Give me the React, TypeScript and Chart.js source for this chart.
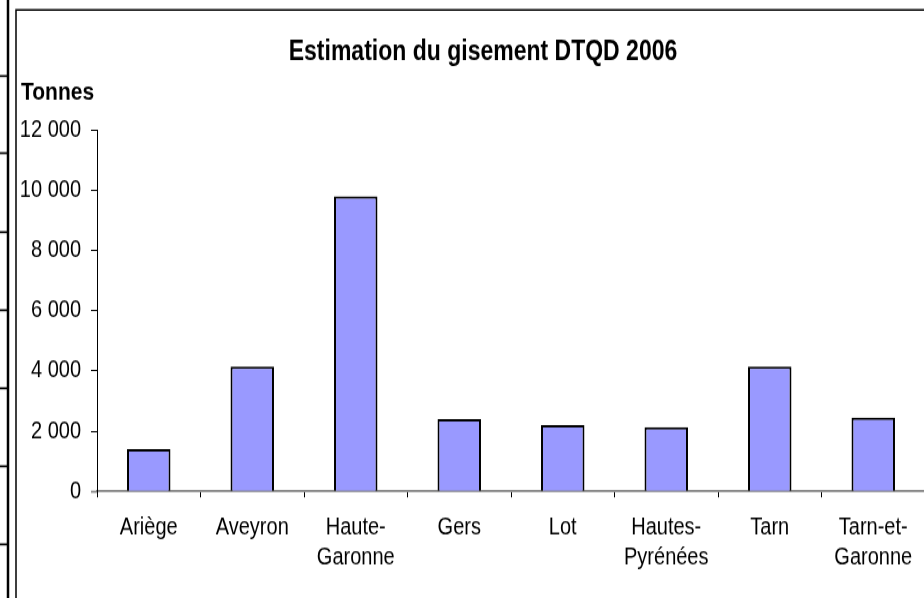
import React, { useEffect, useRef } from "react";
import { Chart, registerables } from "chart.js";

Chart.register(...registerables);

const chartTitle = "Estimation du gisement DTQD 2006";
const unitLabel = "Tonnes";
const categories: (string | string[])[] = [
  "Ariège",
  "Aveyron",
  ["Haute-", "Garonne"],
  "Gers",
  "Lot",
  ["Hautes-", "Pyrénées"],
  "Tarn",
  ["Tarn-et-", "Garonne"],
];
const tonnages = [1400, 4150, 9800, 2400, 2200, 2130, 4150, 2450];
const yMin = 0;
const yMax = 12000;
const yStep = 2000;

const FONT = "'Liberation Sans', Arial, Helvetica, sans-serif";
// The reference is a vertically stretched picture: draw at a reduced height
// and stretch the canvas with CSS.
const W = 930;
const H_OUT = 598;
const S = 1.2;
const H = Math.round(H_OUT / S); // 498
const v = (y: number) => y / S; // convert picture y to canvas y

const formatThousands = (n: number) =>
  String(Math.round(n)).replace(/\B(?=(\d{3})+(?!\d))/g, " ");

const decorPlugin = {
  id: "decor",
  afterDraw(chart: any) {
    const ctx = chart.ctx as CanvasRenderingContext2D;
    ctx.save();
    // left spreadsheet border artifact
    ctx.strokeStyle = "#000";
    ctx.lineWidth = 2.5;
    ctx.beginPath();
    ctx.moveTo(8, 0);
    ctx.lineTo(8, H);
    ctx.stroke();
    ctx.lineWidth = 1.7;
    [76, 153, 232, 310, 388, 466, 544].forEach((y) => {
      ctx.beginPath();
      ctx.moveTo(0, v(y));
      ctx.lineTo(8, v(y));
      ctx.stroke();
    });
    // chart frame
    ctx.lineWidth = 1.5;
    ctx.beginPath();
    ctx.moveTo(16, H);
    ctx.lineTo(16, v(10));
    ctx.lineTo(W, v(10));
    ctx.stroke();
    // title
    ctx.fillStyle = "#000";
    ctx.font = `bold 23px ${FONT}`;
    ctx.textAlign = "center";
    ctx.textBaseline = "middle";
    ctx.fillText(chartTitle, 483, v(52));
    // unit label
    ctx.font = `bold 21px ${FONT}`;
    ctx.textAlign = "left";
    ctx.fillText(unitLabel, 21, v(93));
    ctx.restore();
  },
};

export default function App() {
  const ref = useRef<HTMLCanvasElement | null>(null);

  useEffect(() => {
    document.body.style.overflow = "hidden";
    const canvas = ref.current!;
    const chart = new Chart(canvas, {
      type: "bar",
      data: {
        labels: categories,
        datasets: [
          {
            data: tonnages,
            backgroundColor: "#9999FF",
            borderColor: "#000000",
            borderWidth: 2,
            barPercentage: 0.42,
            categoryPercentage: 1,
          },
        ],
      },
      options: {
        animation: false,
        responsive: false,
        devicePixelRatio: 1,
        layout: { padding: { top: v(130), left: 0, right: W - 925, bottom: 0 } },
        plugins: {
          legend: { display: false },
          tooltip: { enabled: false },
          title: { display: false },
        },
        scales: {
          x: {
            afterFit: (scale: any) => {
              scale.height = H - v(491);
            },
            grid: {
              display: true,
              offset: true,
              drawOnChartArea: false,
              drawTicks: true,
              tickLength: 5,
              tickColor: "#000",
              tickWidth: 1,
            },
            border: { display: true, color: "#808080", width: 1.7 },
            ticks: {
              color: "#000",
              padding: 12,
              maxRotation: 0,
              autoSkip: false,
              font: { family: FONT, size: 20, lineHeight: 1.29 },
            },
          },
          y: {
            min: yMin,
            max: yMax,
            afterFit: (scale: any) => {
              scale.width = 97;
            },
            grid: {
              display: true,
              drawOnChartArea: false,
              drawTicks: true,
              tickLength: 6,
              tickColor: (c: any) =>
                c.tick && c.tick.value === 0 ? "#808080" : "#000",
              tickWidth: (c: any) => (c.tick && c.tick.value === 0 ? 1.7 : 1),
            },
            border: { display: true, color: "#000", width: 1 },
            ticks: {
              stepSize: yStep,
              color: "#000",
              padding: 10,
              font: { family: FONT, size: 20 },
              callback: (val: any) => formatThousands(Number(val)),
            },
          },
        },
      },
      plugins: [decorPlugin],
    });
    return () => chart.destroy();
  }, []);

  return (
    <div
      style={{
        position: "fixed",
        left: 0,
        top: 0,
        width: W,
        height: H_OUT,
        background: "#fff",
        overflow: "hidden",
      }}
    >
      <canvas
        ref={ref}
        width={W}
        height={H}
        style={{ width: W, height: H_OUT, display: "block" }}
      />
    </div>
  );
}
